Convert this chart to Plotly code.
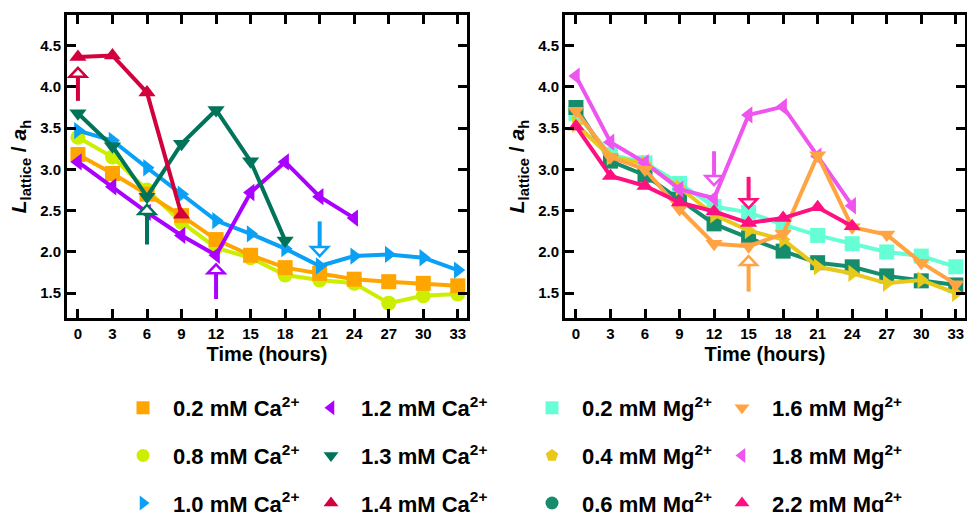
import plotly.graph_objects as go

hours = [0, 3, 6, 9, 12, 15, 18, 21, 24, 27, 30, 33]

# ---- Ca2+ panel ----
ca_02 = [3.18, 2.95, 2.70, 2.44, 2.15, 1.96, 1.81, 1.74, 1.67, 1.64, 1.62, 1.59]
ca_08 = [3.39, 3.15, 2.75, 2.36, 2.05, 1.93, 1.72, 1.66, 1.62, 1.38, 1.47, 1.49]
ca_10 = [3.47, 3.35, 3.02, 2.70, 2.38, 2.22, 2.04, 1.83, 1.95, 1.97, 1.93, 1.78]
ca_12 = [3.09, 2.79, 2.48, 2.20, 1.96, 2.72, 3.09, 2.67, 2.41]
ca_13 = [3.68, 3.28, 2.67, 3.31, 3.72, 3.10, 2.14]
ca_14 = [4.36, 4.38, 3.93, 2.45]

# ---- Mg2+ panel ----
mg_02 = [3.68, 3.18, 3.08, 2.83, 2.55, 2.48, 2.33, 2.20, 2.10, 2.00, 1.95, 1.82]
mg_04 = [3.55, 3.15, 3.07, 2.78, 2.45, 2.26, 2.15, 1.82, 1.74, 1.62, 1.66, 1.50]
mg_06 = [3.75, 3.10, 2.93, 2.64, 2.34, 2.17, 2.01, 1.87, 1.82, 1.71, 1.65, 1.60]
mg_16 = [3.71, 3.15, 3.00, 2.52, 2.10, 2.07, 2.22, 3.17, 2.30, 2.21, 1.87, 1.61]
mg_18 = [4.13, 3.33, 3.08, 2.76, 2.65, 3.66, 3.76, 3.16, 2.56]
mg_22 = [3.52, 2.92, 2.80, 2.60, 2.49, 2.35, 2.41, 2.54, 2.31]

# (label, values, color, plot symbol, legend symbol)
ca_series = [
    ("0.8 mM Ca<sup>2+</sup>", ca_08, "#CCEE00", "circle", "circle"),
    ("0.2 mM Ca<sup>2+</sup>", ca_02, "#FFA500", "square", "square"),
    ("1.0 mM Ca<sup>2+</sup>", ca_10, "#0AA0F5", "triangle-right", "triangle-right"),
    ("1.2 mM Ca<sup>2+</sup>", ca_12, "#AA00FF", "triangle-left", "triangle-left"),
    ("1.3 mM Ca<sup>2+</sup>", ca_13, "#00745A", "triangle-down", "triangle-down"),
    ("1.4 mM Ca<sup>2+</sup>", ca_14, "#D2003C", "triangle-up", "triangle-up"),
]
mg_series = [
    ("0.2 mM Mg<sup>2+</sup>", mg_02, "#66FFD5", "square", "square"),
    ("0.6 mM Mg<sup>2+</sup>", mg_06, "#158C6C", "square", "circle"),
    ("0.4 mM Mg<sup>2+</sup>", mg_04, "#E8C81A", "triangle-right", "pentagon"),
    ("1.8 mM Mg<sup>2+</sup>", mg_18, "#EE55EE", "triangle-left", "triangle-left"),
    ("1.6 mM Mg<sup>2+</sup>", mg_16, "#FFA343", "triangle-down", "triangle-down"),
    ("2.2 mM Mg<sup>2+</sup>", mg_22, "#FF1080", "triangle-up", "triangle-up"),
]

legend_cols = {
    "legend": ["0.2 mM Ca<sup>2+</sup>", "0.8 mM Ca<sup>2+</sup>", "1.0 mM Ca<sup>2+</sup>"],
    "legend2": ["1.2 mM Ca<sup>2+</sup>", "1.3 mM Ca<sup>2+</sup>", "1.4 mM Ca<sup>2+</sup>"],
    "legend3": ["0.2 mM Mg<sup>2+</sup>", "0.4 mM Mg<sup>2+</sup>", "0.6 mM Mg<sup>2+</sup>"],
    "legend4": ["1.6 mM Mg<sup>2+</sup>", "1.8 mM Mg<sup>2+</sup>", "2.2 mM Mg<sup>2+</sup>"],
}

# arrows: (x, tail, tip, color)
ca_arrows = [(0, 3.83, 4.23, "#D2003C"), (6, 2.09, 2.57, "#00745A"),
             (12, 1.43, 1.85, "#AA00FF"), (21, 2.37, 1.95, "#0AA0F5")]
mg_arrows = [(12, 3.22, 2.81, "#EE55EE"), (15, 2.91, 2.53, "#FF1080"),
             (15, 1.52, 1.95, "#FFA343")]

W, H = 967, 512
X_RANGE = [-0.95, 33.8]
Y_RANGE = [1.2, 4.87]
Y_DOM = [1 - 318 / H, 1 - 15 / H]
FONT = "Liberation Sans, Arial, Helvetica, sans-serif"

fig = go.Figure()

all_series = {}
for panel, series in (("1", ca_series), ("2", mg_series)):
    xa = "x" if panel == "1" else "x2"
    ya = "y" if panel == "1" else "y2"
    for name, vals, color, sym, lsym in series:
        all_series[name] = (color, lsym)
        fig.add_trace(go.Scatter(
            x=hours[:len(vals)], y=vals, xaxis=xa, yaxis=ya,
            mode="lines+markers", showlegend=False,
            line=dict(color=color, width=4),
            marker=dict(symbol=sym, size=15, color=color, line=dict(width=0)),
        ))

# legend-only entries
for lg, names in legend_cols.items():
    for i, name in enumerate(names):
        color, lsym = all_series[name]
        fig.add_trace(go.Scatter(
            x=[None], y=[None], mode="markers", name=name, legend=lg,
            legendgroup=name,
            marker=dict(symbol=lsym, size=13, color=color, line=dict(width=0)),
        ))

# arrows
shapes = []
px_per_unit = (Y_DOM[1] - Y_DOM[0]) * H / (Y_RANGE[1] - Y_RANGE[0])
for panel, arrows in (("1", ca_arrows), ("2", mg_arrows)):
    xr = "x" if panel == "1" else "x2"
    yr = "y" if panel == "1" else "y2"
    for x, tail, tip, color in arrows:
        s = 1 if tip > tail else -1
        shapes.append(dict(type="line", xref=xr, yref=yr, x0=x, x1=x, y0=tail,
                           y1=tip - s * 6 / px_per_unit,
                           line=dict(color=color, width=4), layer="above"))
        shapes.append(dict(type="path", xref=xr, yref=yr, xsizemode="pixel",
                           ysizemode="pixel", xanchor=x, yanchor=tip,
                           path=f"M 0 0 L 8.5 {-s*9} L -8.5 {-s*9} Z",
                           fillcolor="white", line=dict(color=color, width=2.5),
                           layer="above"))

axis_common = dict(
    range=X_RANGE, tickmode="array", tickvals=hours, ticktext=[str(h) for h in hours],
    ticks="inside", ticklen=9, tickwidth=2.5, tickcolor="black",
    showline=True, linewidth=3, linecolor="black", mirror="ticks",
    showgrid=False, zeroline=False,
    tickfont=dict(family=FONT, size=15, color="black", weight="bold"),
    title=dict(text="<b>Time (hours)</b>", font=dict(family=FONT, size=20, color="black"),
               standoff=6),
)
yaxis_common = dict(
    range=Y_RANGE, tickmode="array", tickvals=[1.5, 2.0, 2.5, 3.0, 3.5, 4.0, 4.5],
    ticktext=["1.5", "2.0", "2.5", "3.0", "3.5", "4.0", "4.5"],
    ticks="inside", ticklen=9, tickwidth=2.5, tickcolor="black",
    showline=True, linewidth=3, linecolor="black", mirror="ticks",
    showgrid=False, zeroline=False, domain=Y_DOM,
    tickfont=dict(family=FONT, size=15, color="black", weight="bold"),
    title=dict(text="<b><i>L</i><sub>lattice</sub> / <i>a</i><sub>h</sub></b>",
               font=dict(family=FONT, size=21, color="black"), standoff=8),
)

legend_common = dict(
    font=dict(family=FONT, size=22, color="black", weight="bold"),
    bgcolor="rgba(0,0,0,0)", borderwidth=0, orientation="v",
    traceorder="grouped", tracegroupgap=16, itemwidth=50,
    xanchor="left", yanchor="top", y=1 - 387 / H, itemsizing="trace",
    itemclick=False, itemdoubleclick=False,
)

fig.update_layout(
    width=W, height=H, margin=dict(l=0, r=0, t=0, b=0, autoexpand=False),
    paper_bgcolor="white", plot_bgcolor="white",
    xaxis=dict(domain=[67 / W, 467 / W], anchor="y", **axis_common),
    yaxis=dict(anchor="x", **yaxis_common),
    xaxis2=dict(domain=[565 / W, 965 / W], anchor="y2", **axis_common),
    yaxis2=dict(anchor="x2", **yaxis_common),
    shapes=shapes,
    legend=dict(x=113 / W, **legend_common),
    legend2=dict(x=301 / W, **legend_common),
    legend3=dict(x=522 / W, **legend_common),
    legend4=dict(x=712 / W, **legend_common),
)

fig.write_html("out.html", config={"displayModeBar": False},
               post_script="document.body.style.margin='0px';")
